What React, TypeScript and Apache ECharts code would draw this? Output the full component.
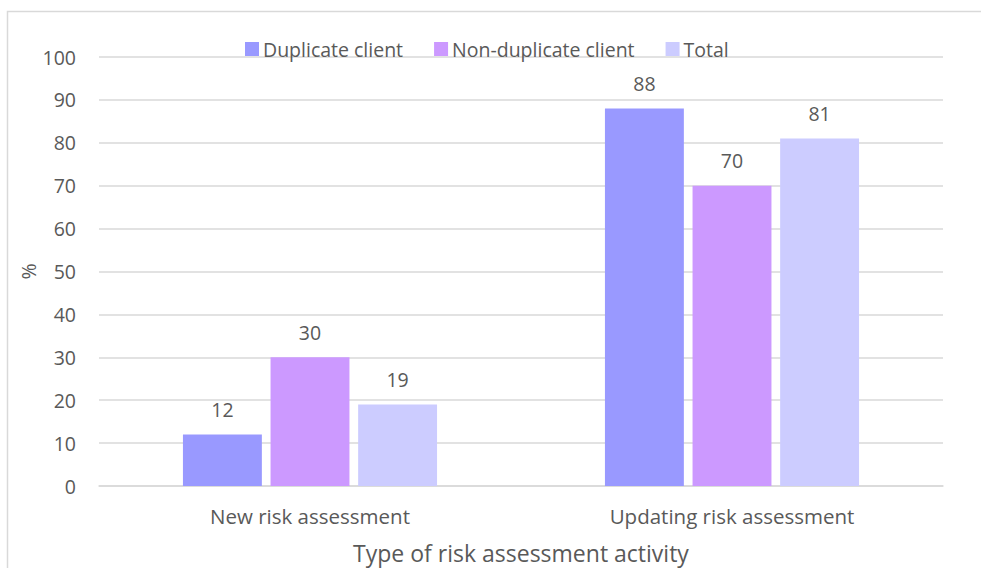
import React, { useEffect, useRef } from "react";
import * as echarts from "echarts";

const categories = ["New risk assessment", "Updating risk assessment"];
const seriesNames = ["Duplicate client", "Non-duplicate client", "Total"];
const duplicateClient = [12, 88];
const nonDuplicateClient = [30, 70];
const total = [19, 81];
const yTicks = { min: 0, max: 100, interval: 10 };
const colors = ["#9999FF", "#CC99FF", "#CCCCFF"];

const FONT = "Open Sans";
const TXT = "#595959";

export default function App() {
  const ref = useRef<HTMLDivElement>(null);
  useEffect(() => {
    document.body.style.margin = "0";
    const chart = echarts.init(ref.current!, undefined, { renderer: "svg" });
    const values = [duplicateClient, nonDuplicateClient, total];
    chart.setOption({
      animation: false,
      textStyle: { fontFamily: FONT, color: TXT },
      graphic: [
        {
          type: "rect",
          shape: { x: 7.5, y: 11.5, width: 990, height: 600 },
          style: { fill: "none", stroke: "#D9D9D9", lineWidth: 1.5 },
          silent: true,
        },
      ],
      legend: {
        top: 39,
        left: 245,
        padding: 0,
        itemWidth: 14,
        itemHeight: 14,
        itemGap: 31,
        icon: "rect",
        textStyle: { fontFamily: FONT, fontSize: 19.5, color: TXT, padding: [0, 0, 0, -1] },
        data: seriesNames,
      },
      grid: {
        left: 99,
        right: 38,
        top: 57,
        bottom: 82,
        containLabel: false,
        outerBoundsMode: "none",
      },
      xAxis: {
        type: "category",
        data: categories,
        axisLine: { lineStyle: { color: "#D9D9D9", width: 1.5 } },
        axisTick: { show: false },
        axisLabel: { fontFamily: FONT, fontSize: 20.5, color: TXT, margin: 19 },
        name: "Type of risk assessment activity",
        nameLocation: "middle",
        nameGap: 55,
        nameMoveOverlap: false,
        nameTextStyle: { fontFamily: FONT, fontSize: 23, color: TXT },
      },
      yAxis: {
        type: "value",
        min: yTicks.min,
        max: yTicks.max,
        interval: yTicks.interval,
        axisLine: { show: false },
        axisTick: { show: false },
        splitLine: { lineStyle: { color: "#D9D9D9", width: 1.5 } },
        axisLabel: { fontFamily: FONT, fontSize: 19.5, color: TXT, margin: 23 },
        name: "%",
        nameLocation: "middle",
        nameGap: 61,
        nameMoveOverlap: false,
        nameRotate: 90,
        nameTextStyle: { fontFamily: FONT, fontSize: 19.5, color: TXT },
      },
      series: seriesNames.map((name, i) => ({
        name,
        type: "bar",
        data: values[i],
        barWidth: "18.7%",
        barGap: "11%",
        itemStyle: { color: colors[i] },
        label: {
          show: true,
          position: "top",
          distance: 15,
          fontFamily: FONT,
          fontSize: 19.5,
          color: TXT,
        },
      })),
    });
    return () => chart.dispose();
  }, []);
  return (
    <div
      ref={ref}
      style={{ position: "absolute", left: 0, top: 0, width: 981, height: 568 }}
    />
  );
}
